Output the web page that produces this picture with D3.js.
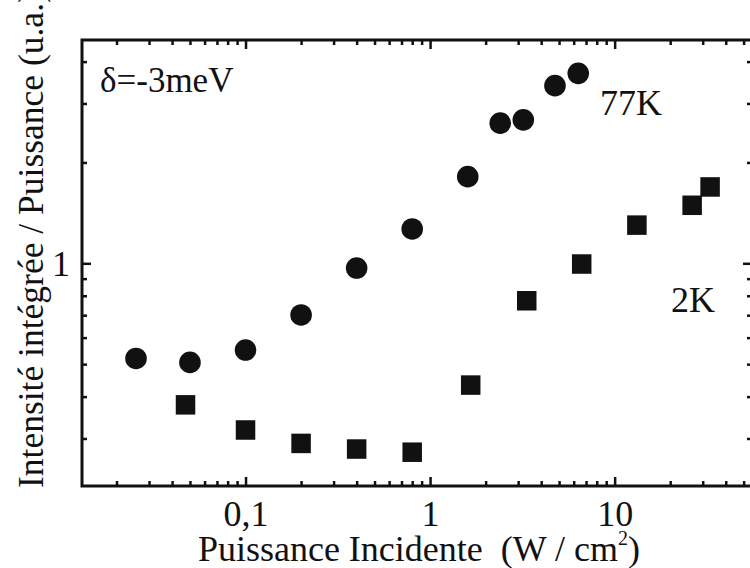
<!DOCTYPE html>
<html><head><meta charset="utf-8">
<script src="https://cdn.jsdelivr.net/npm/d3@7"></script>
<style>
html,body{margin:0;padding:0;background:#fff;overflow:hidden;}
text{font-family:"Liberation Serif","Times New Roman",serif;fill:#111;}
</style></head>
<body>
<svg id="chart" width="750" height="568"></svg>
<script>
// 77K (circles)
const power77 = [0.0255, 0.050, 0.100, 0.20, 0.40, 0.80, 1.6, 2.4, 3.2, 4.75, 6.35];
const signal77 = [0.52, 0.506, 0.551, 0.701, 0.968, 1.266, 1.814, 2.62, 2.68, 3.39, 3.69];
// 2K (squares)
const power2 = [0.0473, 0.100, 0.20, 0.40, 0.80, 1.66, 3.34, 6.63, 13.2, 26.3, 32.9];
const signal2 = [0.378, 0.318, 0.290, 0.279, 0.273, 0.433, 0.773, 0.995, 1.30, 1.49, 1.69];
// ticks
const xMajor = [0.1, 1, 10];
const xMajorLabels = ["0,1", "1", "10"];
const xMinor = [0.02,0.03,0.04,0.05,0.06,0.07,0.08,0.09,0.2,0.3,0.4,0.5,0.6,0.7,0.8,0.9,2,3,4,5,6,7,8,9,20,30,40,50];
const yMajor = [1];
const yMajorLabels = ["1"];
const yMinor = [0.3,0.4,0.5,0.6,0.7,0.8,0.9,2,3,4];

const svg = d3.select("#chart");
const L = 82, R = 752, T = 40, B = 486;
const x = d3.scaleLog().domain([0.013, 55.5]).range([L, R]);
const y = d3.scaleLog().domain([0.2164, 4.64]).range([B, T]);

function styleAxis(g){
  g.attr("font-family", null).attr("font-size", null);
  g.select(".domain").remove();
  g.selectAll(".tick line").attr("stroke","#111").attr("stroke-width",2.5);
}
// bottom
svg.append("g").attr("transform",`translate(0,${B})`)
  .call(d3.axisBottom(x).tickValues(xMinor).tickSize(-5).tickFormat(""))
  .call(styleAxis);
const bMaj = svg.append("g").attr("transform",`translate(0,${B})`)
  .call(d3.axisBottom(x).tickValues(xMajor).tickSize(-9).tickFormat((d,i)=>xMajorLabels[i]))
  .call(styleAxis);
bMaj.selectAll("text").attr("y",40).attr("dy",0).attr("font-size",36)
  .attr("font-family","Liberation Serif").attr("fill","#111");
// top
svg.append("g").attr("transform",`translate(0,${T})`)
  .call(d3.axisTop(x).tickValues(xMinor).tickSize(-5).tickFormat(""))
  .call(styleAxis);
svg.append("g").attr("transform",`translate(0,${T})`)
  .call(d3.axisTop(x).tickValues(xMajor).tickSize(-9).tickFormat(""))
  .call(styleAxis);
// left
svg.append("g").attr("transform",`translate(${L},0)`)
  .call(d3.axisLeft(y).tickValues(yMinor).tickSize(-5).tickFormat(""))
  .call(styleAxis);
const lMaj = svg.append("g").attr("transform",`translate(${L},0)`)
  .call(d3.axisLeft(y).tickValues(yMajor).tickSize(-9).tickFormat((d,i)=>yMajorLabels[i]))
  .call(styleAxis);
lMaj.selectAll("text").attr("x",-12).attr("dy","0.35em").attr("font-size",36)
  .attr("font-family","Liberation Serif").attr("fill","#111");
// right
svg.append("g").attr("transform",`translate(${R},0)`)
  .call(d3.axisRight(y).tickValues(yMinor).tickSize(-5).tickFormat(""))
  .call(styleAxis);
svg.append("g").attr("transform",`translate(${R},0)`)
  .call(d3.axisRight(y).tickValues(yMajor).tickSize(-9).tickFormat(""))
  .call(styleAxis);

// frame
svg.append("rect").attr("x",L).attr("y",T).attr("width",R-L).attr("height",B-T)
  .attr("fill","none").attr("stroke","#111").attr("stroke-width",3);

// markers
svg.append("g").selectAll("circle").data(power77.map((p,i)=>[p,signal77[i]]))
  .join("circle").attr("cx",d=>x(d[0])).attr("cy",d=>y(d[1])).attr("r",10.8).attr("fill","#111");
const s = 19.5;
svg.append("g").selectAll("rect").data(power2.map((p,i)=>[p,signal2[i]]))
  .join("rect").attr("x",d=>x(d[0])-s/2).attr("y",d=>y(d[1])-s/2)
  .attr("width",s).attr("height",s).attr("fill","#111");

// annotations
svg.append("text").attr("x",100).attr("y",92).attr("font-size",35).text("δ=-3meV");
svg.append("text").attr("x",600).attr("y",115).attr("font-size",36).text("77K");
svg.append("text").attr("x",671).attr("y",312).attr("font-size",36).text("2K");

// axis titles
const xt = svg.append("text").attr("x",419).attr("y",561).attr("text-anchor","middle").attr("font-size",36);
xt.append("tspan").text("Puissance Incidente\u00A0 (W / cm");
xt.append("tspan").attr("font-size",20).attr("dy",-16).text("2");
xt.append("tspan").attr("dy",16).text(")");
svg.append("text").attr("transform","translate(43,488) rotate(-90)")
  .attr("text-anchor","start").attr("font-size",35.5)
  .text("Intensité intégrée / Puissance (u.a.)");
</script>
</body></html>
